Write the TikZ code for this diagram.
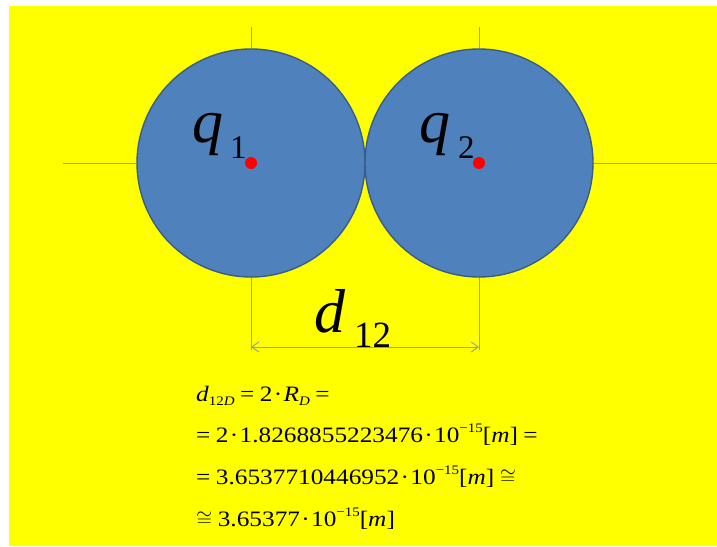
\documentclass[tikz,border=0pt]{standalone}
\usepackage{fontspec}
\setmainfont{Liberation Serif}
\newfontfamily\eqfont[FakeStretch=1.15]{Liberation Serif}
\usetikzlibrary{arrows.meta}
\definecolor{bgyellow}{RGB}{255,255,0}
\definecolor{ballblue}{RGB}{79,129,189}
\definecolor{ballrim}{RGB}{56,93,138}
\definecolor{guidecol}{RGB}{140,165,140}
\newcommand{\sbs}[1]{\raisebox{-0.22em}{\fontsize{13}{13}\selectfont #1}}
\newcommand{\sps}[1]{\raisebox{0.45em}{\fontsize{13}{13}\selectfont #1}}
\newcommand{\eqsp}{\hspace{0.25em}}
\newcommand{\cdt}{\hspace{0.06em}·\hspace{0.06em}}

\begin{document}
\begin{tikzpicture}[
    x=1pt, y=-1pt,
    ball/.style={circle, draw=ballrim, line width=1.4pt, fill=ballblue, minimum size=228pt, inner sep=0pt},
    charge/.style={circle, fill=red, minimum size=12pt, inner sep=0pt},
    guide/.style={draw=guidecol, line width=0.9pt},
    dimarrow/.style={guide, {Straight Barb[length=7pt,width=10pt]}-{Straight Barb[length=7pt,width=10pt]}},
    biglab/.style={anchor=base west, inner sep=0pt, font=\fontsize{62}{62}\selectfont\itshape},
    sublab/.style={anchor=base west, inner sep=0pt, font=\fontsize{33}{33}\selectfont},
    eqline/.style={anchor=base west, inner sep=0pt, font=\eqfont\fontsize{22}{22}\selectfont}
]
\useasboundingbox (0,0) rectangle (717,546);
\fill[bgyellow] (9,6) rectangle (717,546);

% guide lines
\coordinate (hl) at (63,163);
\coordinate (hr) at (717,163);
\coordinate (v1t) at (251,27);
\coordinate (v1b) at (251,350);
\coordinate (v2t) at (479,27);
\coordinate (v2b) at (479,350);
\draw[guide] (hl) -- (hr);
\draw[guide] (v1t) -- (v1b);
\draw[guide] (v2t) -- (v2b);

% the two spheres
\node[ball] (ball1) at (251,163) {};
\node[ball] (ball2) at (479,163) {};
\node[charge] (dot1) at (ball1.center) {};
\node[charge] (dot2) at (ball2.center) {};

\node[biglab] (q1) at (192,142) {q};
\node[sublab] (q1sub) at (230,158) {1};
\node[biglab] (q2) at (419,142) {q};
\node[sublab] (q2sub) at (458,158) {2};

% distance
\coordinate (dl) at (251,347);
\coordinate (dr) at (479,347);
\draw[dimarrow] (dl) -- (dr);
\node[biglab] (dlab) at (314,332) {d};
\node[sublab, font=\fontsize{37}{37}\selectfont] (dsub) at (354,347) {12};

% result
\node[eqline] (eqa) at (196,401) {\textit{d}\sbs{12\textit{D}}\eqsp=\eqsp2\cdt\textit{R}\sbs{\textit{D}}\eqsp=};
\node[eqline] (eqb) at (196,442) {=\eqsp2\cdt1.8268855223476\cdt10\sps{−15}[\textit{m}]\eqsp=};
\node[eqline] (eqc) at (196,484) {=\eqsp3.6537710446952\cdt10\sps{−15}[\textit{m}]\eqsp$\cong$};
\node[eqline] (eqd) at (196,526) {$\cong$\eqsp3.65377\cdt10\sps{−15}[\textit{m}]};
\end{tikzpicture}
\end{document}
